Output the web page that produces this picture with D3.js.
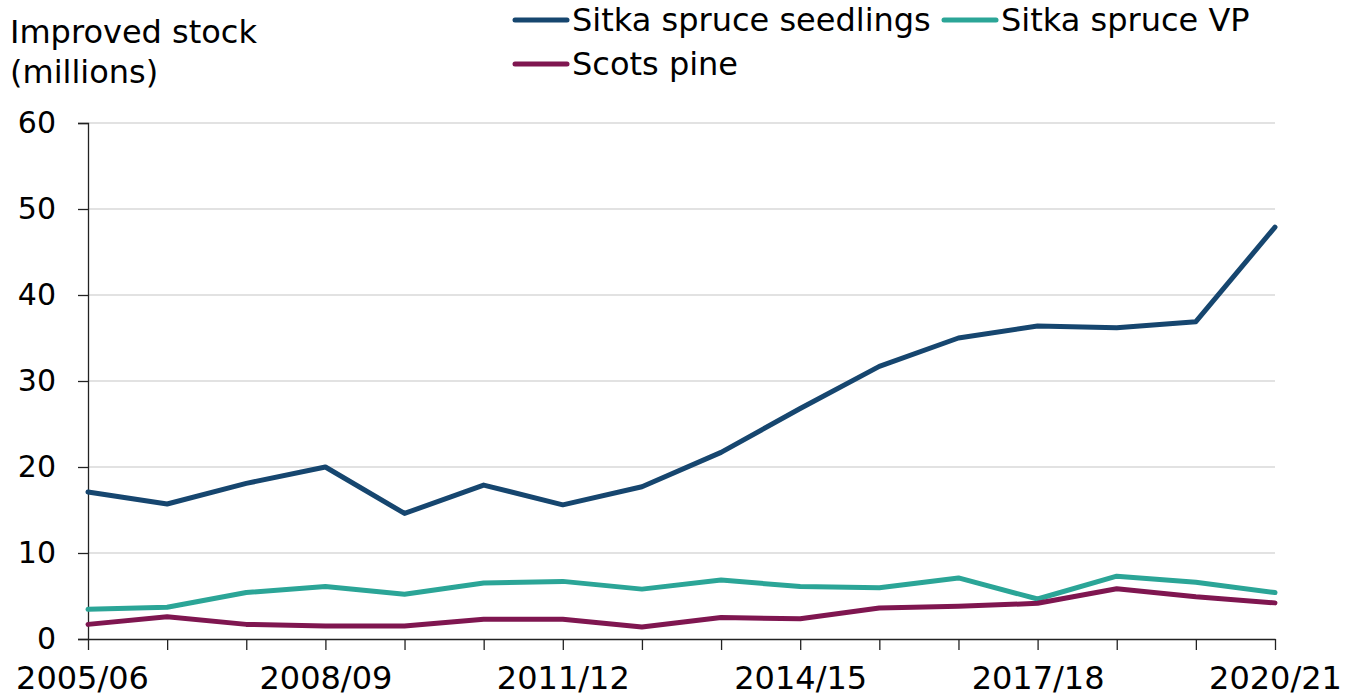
<!DOCTYPE html>
<html lang="en">
<head>
    <meta charset="UTF-8">
    <title>Improved stock</title>
    <script src="https://cdnjs.cloudflare.com/ajax/libs/d3/7.8.2/d3.min.js"></script>
    <style>
        body{
            margin: 0;
            background: white;
        }
        svg{
            font-family: "DejaVu Sans", Verdana, sans-serif;
        }
    </style>
</head>
<body>
    <div class="container"></div>
    <script>
        // data
        let years = ['2005/06','2006/07','2007/08','2008/09','2009/10','2010/11','2011/12','2012/13',
                     '2013/14','2014/15','2015/16','2016/17','2017/18','2018/19','2019/20','2020/21'];
        let tickLabels = ['2005/06','2008/09','2011/12','2014/15','2017/18','2020/21'];
        let yTicks = [0, 10, 20, 30, 40, 50, 60];

        let seedlings = [17.1, 15.7, 18.1, 20.0, 14.6, 17.9, 15.6, 17.7, 21.7, 26.8, 31.7, 35.0, 36.4, 36.2, 36.9, 47.9];
        let sitkaVP   = [3.45, 3.7, 5.4, 6.1, 5.2, 6.5, 6.7, 5.8, 6.85, 6.1, 5.95, 7.1, 4.65, 7.3, 6.6, 5.4];
        let scotsPine = [1.7, 2.6, 1.7, 1.5, 1.5, 2.3, 2.3, 1.4, 2.5, 2.35, 3.6, 3.8, 4.15, 5.85, 4.9, 4.2];

        let seriesNames = ['Sitka spruce seedlings', 'Sitka spruce VP', 'Scots pine'];
        let colors = ['#16466f', '#2ba597', '#7f1650'];

        let width = 1357;
        let height = 699;
        let plotLeft = 88, plotRight = 1275, plotTop = 123, plotBottom = 639;

        let svg = d3.select('.container').append('svg')
                    .attr('width', width).attr('height', height);

        let xScale = d3.scalePoint().domain(years).range([plotLeft, plotRight]);
        let yScale = d3.scaleLinear().domain([0, 60]).range([plotBottom, plotTop]);

        // gridlines
        svg.append('g')
           .selectAll('line')
           .data(yTicks.filter(d => d > 0))
           .enter()
           .append('line')
           .attr('x1', plotLeft).attr('x2', plotRight)
           .attr('y1', d => yScale(d)).attr('y2', d => yScale(d))
           .attr('stroke', '#d9d9d9').attr('stroke-width', 1.3);

        // y axis
        let yAxis = d3.axisLeft(yScale).tickValues(yTicks).tickSize(10).tickPadding(22);
        let gy = svg.append('g').attr('transform', `translate(${plotLeft},0)`).call(yAxis)
                    .attr('font-family', null).attr('font-size', null);
        gy.select('.domain').attr('stroke', '#222').attr('stroke-width', 1.3);
        gy.selectAll('.tick line').attr('stroke', '#222').attr('stroke-width', 1.3);
        gy.selectAll('text').attr('font-size', 30).attr('fill', '#000');

        // x axis
        let xAxis = d3.axisBottom(xScale).tickSize(11).tickSizeOuter(0)
                      .tickFormat(d => tickLabels.includes(d) ? d : '');
        let gx = svg.append('g').attr('transform', `translate(0,${plotBottom})`).call(xAxis)
                    .attr('font-family', null).attr('font-size', null);
        gx.select('.domain').attr('stroke', '#222').attr('stroke-width', 1.3);
        gx.selectAll('.tick line').attr('stroke', '#222').attr('stroke-width', 1.3);
        gx.selectAll('text').attr('font-size', 32).attr('fill', '#000')
          .attr('y', 27);
        // first label nudged a little to the left
        gx.selectAll('.tick text').filter(d => d === years[0]).attr('x', -6);

        // lines
        let line = d3.line().x((d, i) => xScale(years[i])).y(d => yScale(d));
        [seedlings, sitkaVP, scotsPine].forEach((values, k) => {
            svg.append('path')
               .datum(values)
               .attr('d', line)
               .attr('fill', 'none')
               .attr('stroke', colors[k])
               .attr('stroke-width', 5)
               .attr('stroke-linejoin', 'round')
               .attr('stroke-linecap', 'round');
        });

        // axis title
        svg.append('text').attr('x', 10).attr('y', 43).attr('font-size', 32).text('Improved stock');
        svg.append('text').attr('x', 10).attr('y', 83).attr('font-size', 32).text('(millions)');

        // legend
        let legendPos = [[513, 20], [942, 20], [513, 64]];
        let legend = svg.append('g')
                        .selectAll('g')
                        .data(seriesNames)
                        .enter()
                        .append('g')
                        .attr('transform', (d, i) => `translate(${legendPos[i][0]},${legendPos[i][1]})`);
        legend.append('line')
              .attr('x1', 2).attr('x2', 54)
              .attr('stroke', (d, i) => colors[i])
              .attr('stroke-width', 5)
              .attr('stroke-linecap', 'round');
        legend.append('text')
              .attr('x', 59).attr('y', 11)
              .attr('font-size', 32)
              .text(d => d);
    </script>
</body>
</html>
